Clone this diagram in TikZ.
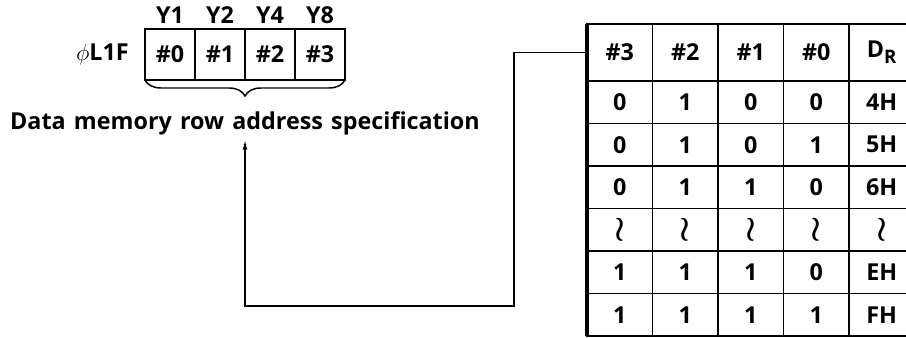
\documentclass[tikz,border=0pt]{standalone}
\usepackage{fontspec}
\setmainfont{Open Sans}[WordSpace=1.35]
\usetikzlibrary{arrows.meta,positioning,decorations.pathreplacing}
\newcommand{\brk}{\scalebox{1.5}{\boldmath$\wr$}}
\newcommand{\dr}{D\raisebox{-0.45ex}{\fontsize{14}{16}\selectfont R}}

\begin{document}
\begin{tikzpicture}[
  x=0.75pt,y=-0.75pt,
  node distance=4pt and 12pt,
  lbl/.style={font=\fontsize{17.5}{20}\selectfont\bfseries,inner sep=0pt},
  reg/.style={lbl,draw,line width=1.6pt,outer sep=0pt,
    minimum width=37.5pt,minimum height=38.25pt},
  hcell/.style={lbl,draw,line width=1.1pt,outer sep=0pt,
    minimum width=49.1pt,minimum height=42.75pt},
  cell/.style={lbl,draw,line width=1.1pt,outer sep=0pt,
    minimum width=49.1pt,minimum height=31.9pt},
  a/.style={line width=1.2pt,-{Latex[length=8pt,width=3.5pt]}}
]
  \useasboundingbox (0,0) rectangle (906,338);

  % register bits
  \node[reg] (b0) at (170,54.5) {\#0};
  \node[reg,right=0pt of b0] (b1) {\#1};
  \node[reg,right=0pt of b1] (b2) {\#2};
  \node[reg,right=0pt of b2] (b3) {\#3};
  \node[lbl,above=of b0] (y1) {Y1};
  \node[lbl,above=of b1] (y2) {Y2};
  \node[lbl,above=of b2] (y4) {Y4};
  \node[lbl,above=of b3] (y8) {Y8};
  \node[lbl,left=of b0] (flag) {$\phi$L1F};
  \draw[line width=1.1pt,decorate,decoration={brace,mirror,amplitude=12pt}]
    (b0.south west) -- (b3.south east);
  \node[lbl] (spec) at (245,123) {Data memory row address specification};

  % table
  \foreach \t [count=\c] in {\#3,\#2,\#1,\#0,\dr}
    \node[hcell] (hd\c) at ({587+65.5*\c-32.75},52.5) {\t};
  \foreach \row [count=\r] in {{0,1,0,0,4H},{0,1,0,1,5H},{0,1,1,0,6H},
      {\brk,\brk,\brk,\brk,\brk},{1,1,1,0,EH},{1,1,1,1,FH}}
    \foreach \v [count=\c] in \row
      \node[cell] (c\r\c) at ({587+65.5*\c-32.75},{81+42.5*\r-21.25}) {\v};
  \draw[line width=1.8pt] (hd1.north west) -- (hd5.north east);
  \draw[line width=2.2pt] (hd1.south west) -- (hd5.south east);
  \draw[line width=3pt] (hd1.north west) -- (c61.south west);

  % link back to the specification
  \coordinate (bend) at (514,306);
  \draw[a,shorten >=3pt] (hd1.west) -| (bend) -| (spec.south);
\end{tikzpicture}
\end{document}
